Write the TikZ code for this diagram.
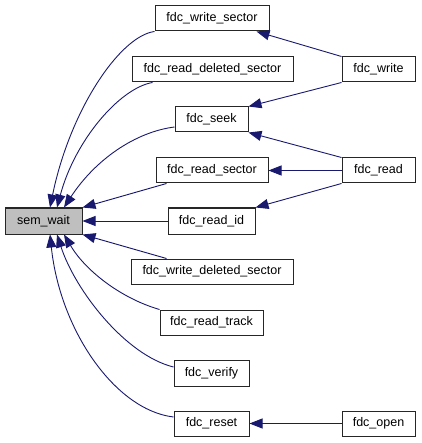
\documentclass[tikz,border=0pt]{standalone}
\usepackage{fontspec}
\setmainfont{Liberation Sans}
\usetikzlibrary{arrows.meta}
\definecolor{edgec}{HTML}{191970}
\definecolor{hl}{HTML}{BFBFBF}
\tikzset{
  box/.style={draw=black!85, line width=1pt, fill=white, rectangle, inner sep=0pt,
    minimum height=25pt, font=\fontsize{12.5}{14}\selectfont},
  edge/.style={draw=edgec, line width=0.9pt, -{Triangle[length=13pt,width=10pt]}},
}
\begin{document}
\begin{tikzpicture}[x=1pt,y=-1pt]
\useasboundingbox[fill=white] (0,0) rectangle (421,443);
% nodes
\node[box, fill=hl, minimum width=77pt, minimum height=26pt] (sw) at (43.5,221) {sem\_wait};
\node[box, minimum width=114pt] (ws) at (212,18.5) {fdc\_write\_sector};
\node[box, minimum width=161pt] (rd) at (212.5,69.5) {fdc\_read\_deleted\_sector};
\node[box, minimum width=73pt] (sk) at (211.5,119.5) {fdc\_seek};
\node[box, minimum width=112pt] (rs) at (212,170.5) {fdc\_read\_sector};
\node[box, minimum width=87pt, minimum height=26pt] (rid) at (211.5,221) {fdc\_read\_id};
\node[box, minimum width=162pt] (wd) at (212,271.5) {fdc\_write\_deleted\_sector};
\node[box, minimum width=103pt] (rt) at (211.5,322.5) {fdc\_read\_track};
\node[box, minimum width=75pt, minimum height=26pt] (vf) at (211.5,373) {fdc\_verify};
\node[box, minimum width=75pt] (rst) at (211.5,423.5) {fdc\_reset};
\node[box, minimum width=73pt] (fw) at (378.5,69.5) {fdc\_write};
\node[box, minimum width=73pt] (fr) at (378.5,170.5) {fdc\_read};
\node[box, minimum width=73pt] (fo) at (378.5,423.5) {fdc\_open};
% edges into sem_wait
\draw[edge] (ws.south west) .. controls (120,36) and (70,110) .. ([xshift=6.5pt]sw.north);
\draw[edge] ([xshift=21pt]rd.south west) .. controls (120,88) and (75,140) .. ([xshift=13.5pt]sw.north);
\draw[edge] ([yshift=-7.5pt]sk.west) .. controls (135,132) and (95,160) .. ([xshift=20.5pt]sw.north);
\draw[edge] ([xshift=11pt]rs.south west) -- (sw.north east);
\draw[edge] (rid.west) -- (sw.east);
\draw[edge] ([xshift=36pt]wd.north west) -- (sw.south east);
\draw[edge] (rt.north west) .. controls (120,298) and (85,270) .. ([xshift=20.5pt]sw.south);
\draw[edge] ([yshift=6pt]vf.west) .. controls (125,355) and (75,290) .. ([xshift=13.5pt]sw.south);
\draw[edge] ([yshift=6.5pt]rst.west) .. controls (115,410) and (60,330) .. ([xshift=6.5pt]sw.south);
% right side edges
\draw[edge] (fw.north west) -- ([xshift=-13pt]ws.south east);
\draw[edge] (fw.south west) -- (sk.north east);
\draw[edge] (fr.north west) -- (sk.south east);
\draw[edge] (fr.west) -- (rs.east);
\draw[edge] (fr.south west) -- (rid.north east);
\draw[edge] (fo.west) -- (rst.east);
\end{tikzpicture}
\end{document}
